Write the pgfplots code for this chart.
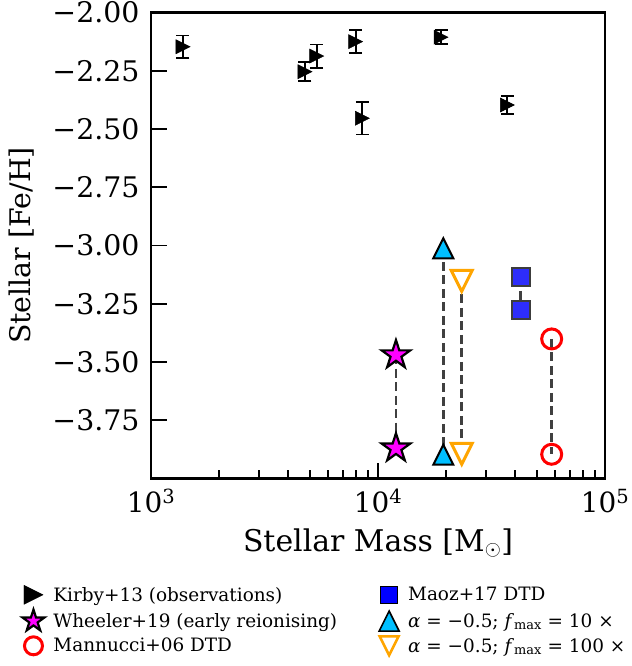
\documentclass[border=0pt]{standalone}
\usepackage{fontspec}
\setmainfont{DejaVu Serif}
\usepackage{pgfplots}
\pgfplotsset{compat=1.18}
\usepackage{pgfplotstable}

% matplotlib-like triangle: apex up, square bounding box
\pgfdeclareplotmark{mpltri}{%
  \pgfpathmoveto{\pgfqpoint{0pt}{\pgfplotmarksize}}%
  \pgfpathlineto{\pgfqpoint{-\pgfplotmarksize}{-\pgfplotmarksize}}%
  \pgfpathlineto{\pgfqpoint{\pgfplotmarksize}{-\pgfplotmarksize}}%
  \pgfpathclose
  \pgfusepathqfillstroke
}
% five-pointed filled star
\pgfdeclareplotmark{mplstar}{%
  \pgfpathmoveto{\pgfpointpolar{90}{\pgfplotmarksize}}%
  \pgfpathlineto{\pgfpointpolar{126}{0.381966\pgfplotmarksize}}%
  \pgfpathlineto{\pgfpointpolar{162}{\pgfplotmarksize}}%
  \pgfpathlineto{\pgfpointpolar{198}{0.381966\pgfplotmarksize}}%
  \pgfpathlineto{\pgfpointpolar{234}{\pgfplotmarksize}}%
  \pgfpathlineto{\pgfpointpolar{270}{0.381966\pgfplotmarksize}}%
  \pgfpathlineto{\pgfpointpolar{306}{\pgfplotmarksize}}%
  \pgfpathlineto{\pgfpointpolar{342}{0.381966\pgfplotmarksize}}%
  \pgfpathlineto{\pgfpointpolar{18}{\pgfplotmarksize}}%
  \pgfpathlineto{\pgfpointpolar{54}{0.381966\pgfplotmarksize}}%
  \pgfpathclose
  \pgfusepathqfillstroke
}

\definecolor{skyb}{RGB}{0,191,255}
\definecolor{mag}{RGB}{255,0,255}
\definecolor{sqblue}{RGB}{45,45,250}
\definecolor{sqedge}{RGB}{60,60,60}
\definecolor{dashgray}{RGB}{64,64,64}
\definecolor{orng}{RGB}{255,165,0}

% Kirby+13 dwarf galaxies: mass, [Fe/H], error
\pgfplotstableread{
x      y       e
1383   -2.147  0.048
4768   -2.254  0.040
5370   -2.187  0.050
7974   -2.125  0.049
8530   -2.454  0.070
18950  -2.106  0.030
37120  -2.397  0.040
}\kirby

\begin{document}
\begin{tikzpicture}
\begin{axis}[
  scale only axis,
  width=454bp, height=466bp,
  xmode=log,
  xmin=1e3, xmax=1e5, ymin=-4, ymax=-2,
  axis line style={line width=2.6bp, black},
  tick align=inside,
  xtick pos=bottom, ytick pos=left,
  xtick={1e3,1e4,1e5},
  xticklabels={10\textsuperscript{3},10\textsuperscript{4},10\textsuperscript{5}},
  minor xtick={2e3,3e3,4e3,5e3,6e3,7e3,8e3,9e3,2e4,3e4,4e4,5e4,6e4,7e4,8e4,9e4},
  ytick={-3.75,-3.5,-3.25,-3,-2.75,-2.5,-2.25,-2},
  yticklabels={−3.75,−3.50,−3.25,−3.00,−2.75,−2.50,−2.25,−2.00},
  major tick length=16bp, minor tick length=9bp,
  every tick/.style={line width=1.8bp, black},
  xticklabel style={font=\fontsize{28}{30}\selectfont, yshift=-7bp},
  yticklabel style={font=\fontsize{28.5}{30}\selectfont, xshift=-8bp},
  xlabel={Stellar Mass [M$_{\odot}$]},
  ylabel={Stellar [Fe/H]},
  xlabel style={font=\fontsize{30}{32}\selectfont, at={(axis description cs:0.5,-0.157)}, anchor=base},
  ylabel style={font=\fontsize{28.5}{32}\selectfont, at={(axis description cs:-0.284,0.5)}, anchor=center},
  legend columns=2,
  legend cell align=left,
  legend style={draw=none, fill=none,
    at={(axis description cs:-0.29,-0.224)}, anchor=north west,
    font=\fontsize{18.5}{21}\selectfont,
    row sep=5bp,
    /tikz/every odd column/.append style={column sep=7bp},
    /tikz/every even column/.append style={column sep=40bp}},
  clip=false,
]
\coordinate (bl) at (rel axis cs:0,0);

% observations with error bars
\addplot[forget plot, only marks, mark=mpltri, mark size=7bp,
  mark options={rotate=-90, fill=black, draw=black, line width=0.5bp},
  error bars/.cd, y dir=both, y explicit,
  error bar style={line width=1.8bp, black},
  error mark options={rotate=90, mark size=6.5bp, line width=1.8bp, black}]
  table[x=x, y=y, y error=e] {\kirby};

% model pairs
\addplot[forget plot, only marks, mark=mplstar, mark size=15bp,
  mark options={fill=mag, draw=black, line width=2.2bp}]
  coordinates {(12000,-3.470) (12000,-3.870)};
\addplot[forget plot, only marks, mark=mpltri, mark size=10bp,
  mark options={fill=skyb, draw=black, line width=2bp}]
  coordinates {(19400,-3.012) (19400,-3.898)};
\addplot[forget plot, only marks, mark=mpltri, mark size=10.5bp,
  mark options={rotate=180, fill=white, draw=orng, line width=3bp}]
  coordinates {(23380,-3.152) (23380,-3.894)};
\addplot[forget plot, only marks, mark=square*, mark size=9bp,
  mark options={fill=sqblue, draw=sqedge, line width=2bp}]
  coordinates {(42520,-3.137) (42520,-3.276)};
\addplot[forget plot, only marks, mark=o, mark size=10bp,
  mark options={draw=red, line width=3bp}]
  coordinates {(58220,-3.401) (58220,-3.896)};

% connectors between paired models
\addplot[forget plot, dashgray, line width=2.6bp, dash pattern=on 9bp off 4.5bp]
  coordinates {(12000,-3.470) (12000,-3.870)};
\addplot[forget plot, dashgray, line width=2.6bp, dash pattern=on 9bp off 4.5bp]
  coordinates {(19400,-3.012) (19400,-3.898)};
\addplot[forget plot, dashgray, line width=2.6bp, dash pattern=on 9bp off 4.5bp]
  coordinates {(23380,-3.152) (23380,-3.894)};
\addplot[forget plot, dashgray, line width=2.6bp, dash pattern=on 9bp off 4.5bp]
  coordinates {(42520,-3.137) (42520,-3.276)};
\addplot[forget plot, dashgray, line width=2.6bp, dash pattern=on 9bp off 4.5bp]
  coordinates {(58220,-3.401) (58220,-3.896)};

% legend (row-wise order for two columns)
\addlegendimage{only marks, mark=mpltri, mark size=9.5bp, mark options={rotate=-90, fill=black, draw=black}}
\addlegendentry{Kirby+13 (observations)}
\addlegendimage{only marks, mark=square*, mark size=8.5bp, mark options={fill=blue, draw=black, line width=1.5bp}}
\addlegendentry{Maoz+17 DTD}
\addlegendimage{only marks, mark=mplstar, mark size=11.5bp, mark options={fill=mag, draw=black, line width=2.2bp}}
\addlegendentry{Wheeler+19 (early reionising)}
\addlegendimage{only marks, mark=mpltri, mark size=10bp, mark options={fill=skyb, draw=black, line width=1.6bp}}
\addlegendentry{\textit{α} = −0.5; \textit{f}\textsubscript{max} = 10 ×}
\addlegendimage{only marks, mark=o, mark size=9bp, mark options={draw=red, line width=3bp}}
\addlegendentry{Mannucci+06 DTD}
\addlegendimage{only marks, mark=mpltri, mark size=9.5bp, mark options={rotate=180, fill=white, draw=orng, line width=2.6bp}}
\addlegendentry{\textit{α} = −0.5; \textit{f}\textsubscript{max} = 100 ×}
\end{axis}
\pgfresetboundingbox
\path[use as bounding box] ([xshift=-151bp, yshift=-187.5bp]bl) rectangle ++(632bp,666bp);
\end{tikzpicture}
\end{document}
